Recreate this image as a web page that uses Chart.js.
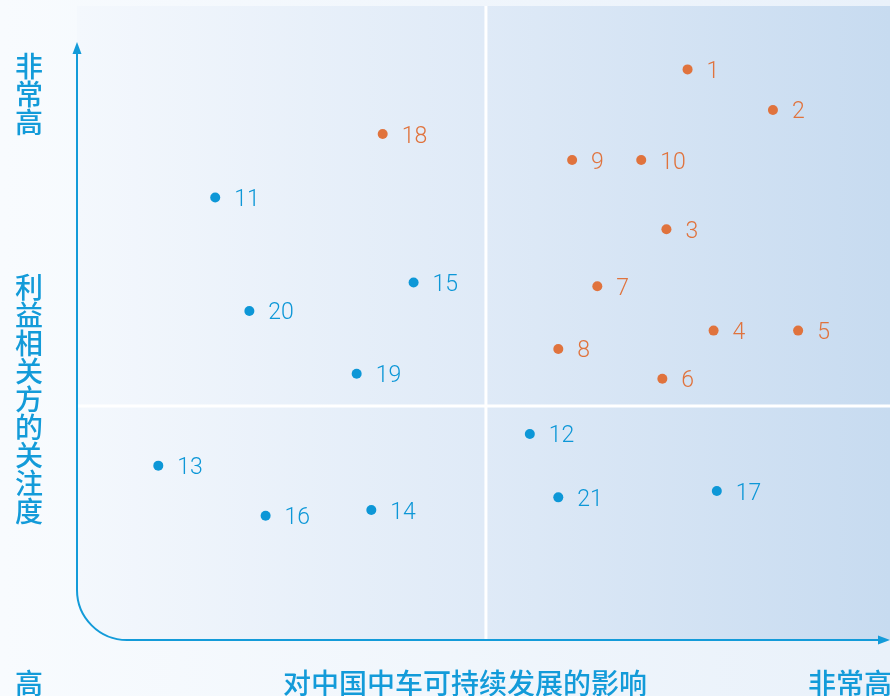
<!DOCTYPE html>
<html lang="zh-CN">
<head>
<meta charset="utf-8">
<title>实质性议题矩阵</title>
<script src="https://cdn.jsdelivr.net/npm/chart.js@4/dist/chart.umd.min.js"></script>
<style>
  html, body { margin: 0; padding: 0; background: #f8fbfe; }
  #matrix { display: block; }
</style>
</head>
<body>
<canvas id="matrix" width="890" height="696"></canvas>
<script>
/* ------------------------------------------------------------
   materiality matrix — issue ids, impact (x), concern (y)
   ------------------------------------------------------------ */
var issueIds = ['1', '2', '3', '4', '5', '6', '7', '8', '9', '10', '11',
                '12', '13', '14', '15', '16', '17', '18', '19', '20', '21'];
var impactX  = [75.1, 85.6, 72.5, 78.3, 88.7, 72.0, 64.0, 59.2, 60.9, 69.4, 17.0,
                55.7, 10.0, 36.2, 41.4, 23.2, 78.7, 37.6, 34.4, 21.2, 59.2];
var concernY = [90.0, 83.6, 64.8, 48.8, 48.8, 41.2, 55.8, 45.9, 75.7, 75.7, 69.8,
                32.5, 27.5, 20.5, 56.4, 19.6, 23.5, 79.8, 42.0, 51.9, 22.5];
var highlighted = ['1', '2', '3', '4', '5', '6', '7', '8', '9', '10', '18'];

var splitX = [50.3];
var splitY = [36.9];

var yAxisEnd   = '非常高';
var yAxisTitle = '利益相关方的关注度';
var originText = '高';
var xAxisTitle = '对中国中车可持续发展的影响';
var xAxisEnd   = '非常高';

(function () {
  'use strict';

  var ORANGE = '#e0733d';
  var BLUE = '#0d97d7';
  var AXIS = '#139bd9';
  var LABEL_FONT = '300 23px Roboto, "Noto Sans", sans-serif';
  var CJK_FONT = '500 28px "Noto Sans CJK SC", sans-serif';

  function pointsFor(hot) {
    var out = [];
    issueIds.forEach(function (id, i) {
      if ((highlighted.indexOf(id) >= 0) === hot) {
        out.push({ x: impactX[i], y: concernY[i], id: id });
      }
    });
    return out;
  }

  /* background, quadrant panel and the white split lines */
  var panel = {
    id: 'panel',
    beforeDatasetsDraw: function (chart) {
      var ctx = chart.ctx;
      var a = chart.chartArea;
      var sx = chart.scales.x, sy = chart.scales.y;
      var r = 50;
      ctx.save();

      var bg = ctx.createLinearGradient(0, 0, chart.width, 0);
      bg.addColorStop(0, '#f8fbfe');
      bg.addColorStop(1, '#e9f1fa');
      ctx.fillStyle = bg;
      ctx.fillRect(0, 0, chart.width, chart.height);

      var g = ctx.createLinearGradient(a.left, 0, a.right, 0);
      g.addColorStop(0, '#f4f8fd');
      g.addColorStop(0.5, '#dfeaf7');
      g.addColorStop(1, '#c7dbf0');
      ctx.beginPath();
      ctx.moveTo(a.left, a.top);
      ctx.lineTo(a.right, a.top);
      ctx.lineTo(a.right, a.bottom);
      ctx.lineTo(a.left + r, a.bottom);
      ctx.arcTo(a.left, a.bottom, a.left, a.bottom - r, r);
      ctx.closePath();
      ctx.fillStyle = g;
      ctx.fill();

      ctx.strokeStyle = '#ffffff';
      ctx.lineWidth = 3;
      splitX.forEach(function (v) {
        var px = sx.getPixelForValue(v);
        ctx.beginPath(); ctx.moveTo(px, a.top); ctx.lineTo(px, a.bottom); ctx.stroke();
      });
      splitY.forEach(function (v) {
        var py = sy.getPixelForValue(v);
        ctx.beginPath(); ctx.moveTo(a.left, py); ctx.lineTo(a.right, py); ctx.stroke();
      });
      ctx.restore();
    }
  };

  /* number next to each dot */
  var idLabels = {
    id: 'idLabels',
    afterDatasetsDraw: function (chart) {
      var ctx = chart.ctx;
      ctx.save();
      ctx.font = LABEL_FONT;
      ctx.textAlign = 'left';
      ctx.textBaseline = 'alphabetic';
      chart.data.datasets.forEach(function (ds, i) {
        var meta = chart.getDatasetMeta(i);
        ctx.fillStyle = ds.borderColor;
        meta.data.forEach(function (pt, j) {
          ctx.fillText(ds.data[j].id, pt.x + 19, pt.y + 8.5);
        });
      });
      ctx.restore();
    }
  };

  /* rounded L-shaped axis with arrows, plus the Chinese captions */
  var axes = {
    id: 'axes',
    afterDraw: function (chart) {
      var ctx = chart.ctx;
      var a = chart.chartArea;
      var r = 50;
      var topY = a.top + 37;
      ctx.save();
      ctx.strokeStyle = AXIS;
      ctx.fillStyle = AXIS;
      ctx.lineWidth = 2;
      ctx.beginPath();
      ctx.moveTo(a.left, topY + 8);
      ctx.lineTo(a.left, a.bottom - r);
      ctx.arcTo(a.left, a.bottom, a.left + r, a.bottom, r);
      ctx.lineTo(a.right - 8, a.bottom);
      ctx.stroke();

      ctx.beginPath();
      ctx.moveTo(a.left, topY - 1);
      ctx.lineTo(a.left - 4.5, topY + 11);
      ctx.lineTo(a.left + 4.5, topY + 11);
      ctx.closePath();
      ctx.fill();

      ctx.beginPath();
      ctx.moveTo(a.right, a.bottom);
      ctx.lineTo(a.right - 12, a.bottom - 4.5);
      ctx.lineTo(a.right - 12, a.bottom + 4.5);
      ctx.closePath();
      ctx.fill();

      ctx.font = CJK_FONT;
      ctx.textBaseline = 'middle';
      ctx.textAlign = 'center';
      var cx = 29;
      yAxisEnd.split('').forEach(function (ch, i) { ctx.fillText(ch, cx, 66 + i * 28); });
      yAxisTitle.split('').forEach(function (ch, i) { ctx.fillText(ch, cx, 287 + i * 28); });
      ctx.fillText(originText, cx, 683);

      ctx.textAlign = 'left';
      ctx.fillText(xAxisTitle, 283, 683);
      ctx.textAlign = 'right';
      ctx.fillText(xAxisEnd, 892, 683);
      ctx.restore();
    }
  };

  function init() {
    var canvas = document.getElementById('matrix');
    new Chart(canvas, {
      type: 'scatter',
      data: {
        datasets: [
          {
            label: 'high',
            data: pointsFor(true),
            borderColor: ORANGE, backgroundColor: ORANGE,
            pointRadius: 5, pointBorderWidth: 0
          },
          {
            label: 'other',
            data: pointsFor(false),
            borderColor: BLUE, backgroundColor: BLUE,
            pointRadius: 5, pointBorderWidth: 0
          }
        ]
      },
      options: {
        responsive: false,
        animation: false,
        layout: { autoPadding: false, padding: { left: 77, right: 0, top: 6, bottom: 56 } },
        plugins: { legend: { display: false }, tooltip: { enabled: false } },
        scales: {
          x: { type: 'linear', min: 0, max: 100, display: false },
          y: { type: 'linear', min: 0, max: 100, display: false }
        }
      },
      plugins: [panel, idLabels, axes]
    });
  }

  if (document.readyState === 'loading') {
    document.addEventListener('DOMContentLoaded', init);
  } else {
    init();
  }
})();
</script>
</body>
</html>
